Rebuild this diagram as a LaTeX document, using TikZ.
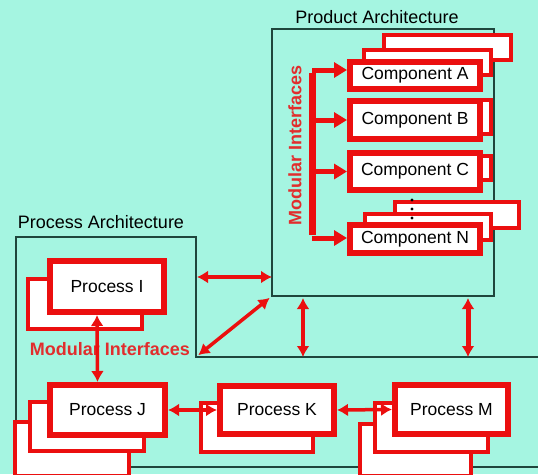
\documentclass[tikz,border=0pt]{standalone}
\usepackage{fontspec}
\setmainfont{Liberation Sans}
\usetikzlibrary{arrows.meta}
\definecolor{bg}{RGB}{165,245,225}
\definecolor{archline}{RGB}{30,70,60}
\definecolor{boxred}{RGB}{235,15,15}
\definecolor{lblred}{RGB}{225,45,45}
\begin{document}
\begin{tikzpicture}[x=1pt,y=-1pt,
  frontbox/.style={draw=boxred,fill=white,line width=6pt,inner sep=0pt,font=\fontsize{17.5}{20}\selectfont},
  backbox/.style={draw=boxred,fill=white,line width=4pt,inner sep=0pt},
  arch/.style={draw=archline,line width=1.2pt},
  lbl/.style={font=\fontsize{18}{20}\selectfont,inner sep=0pt},
  redlbl/.style={font=\fontsize{18}{20}\selectfont\bfseries,text=lblred,inner sep=0pt},
  dbl/.style={draw=boxred,line width=3.5pt,{Latex[length=11pt,width=13pt]}-{Latex[length=11pt,width=13pt]}},
  brarrow/.style={draw=boxred,line width=5pt,-{Triangle[length=13pt,width=15pt]}}]
\fill[bg] (0,0) rectangle (538,474);
\useasboundingbox (0,0) rectangle (538,474);
% Architecture outlines
\node[arch,minimum width=222pt,minimum height=267pt,inner sep=0pt,outer sep=0pt] (prod) at (383,162.5) {};
\coordinate (pa1) at (16,237);
\coordinate (pa2) at (196,237);
\coordinate (pa3) at (196,357);
\coordinate (pa4) at (545,357);
\coordinate (pa5) at (16,467);
\coordinate (pa6) at (545,467);
\draw[arch] (pa4) -- (pa3) -- (pa2) -- (pa1) -- (pa5) -- (pa6);
\node[lbl] (prodlbl) at (377,17) {Product Architecture};
\node[lbl] (proclbl) at (101,222) {Process Architecture};
% Components
\node[backbox,minimum width=127pt,minimum height=25pt] (A2) at (447.5,47.5) {};
\node[backbox,minimum width=127pt,minimum height=25pt] (A1) at (427.5,62.5) {};
\node[frontbox,minimum width=130pt,minimum height=27pt] (A) at (415,75.5) {Component A};
\node[backbox,minimum width=132pt,minimum height=34pt] (B1) at (425,117) {};
\node[frontbox,minimum width=130pt,minimum height=38pt] (B) at (415,120) {Component B};
\node[backbox,minimum width=132pt,minimum height=24pt] (C1) at (425,168) {};
\node[frontbox,minimum width=130pt,minimum height=37pt] (C) at (415,171.5) {Component C};
\node[backbox,minimum width=124pt,minimum height=26pt] (N2) at (457,215) {};
\node[backbox,minimum width=126pt,minimum height=26pt] (N1) at (428,227) {};
\node[frontbox,minimum width=130pt,minimum height=28pt] (N) at (415,239) {Component N};
\fill[black] (412,200) circle (1.6) (412,209) circle (1.6) (412,218) circle (1.6);
% bracket
\coordinate (bt) at (312,70);
\coordinate (bb) at (312,238);
\draw[boxred,line width=7pt] ([yshift=-3pt]bt) -- ([yshift=3pt]bb);
\draw[brarrow] (bt) -- (bt -| A.west);
\draw[brarrow] (bt |- B.west) -- (B.west);
\draw[brarrow] (bt |- C.west) -- (C.west);
\draw[brarrow] (bb) -- (bb -| N.west);
\node[redlbl,rotate=90] (milbl) at (295,145) {Modular Interfaces};
% Processes
\node[backbox,minimum width=114pt,minimum height=50pt] (I1) at (85,304) {};
\node[frontbox,minimum width=114pt,minimum height=51pt] (I) at (107,286.5) {Process I};
\node[backbox,minimum width=114pt,minimum height=54pt] (J2) at (72,449) {};
\node[backbox,minimum width=114pt,minimum height=49pt] (J1) at (87,426.5) {};
\node[frontbox,minimum width=115pt,minimum height=50pt] (J) at (107.5,410) {Process J};
\node[backbox,minimum width=112pt,minimum height=49pt] (K1) at (257,427.5) {};
\node[frontbox,minimum width=114pt,minimum height=48pt] (K) at (277,410) {Process K};
\node[backbox,minimum width=111pt,minimum height=52pt] (M2) at (415.5,450) {};
\node[backbox,minimum width=113pt,minimum height=49pt] (M1) at (431.5,427.5) {};
\node[frontbox,minimum width=113pt,minimum height=49pt] (M) at (451.5,409.5) {Process M};
\node[redlbl] (mi2) at (110,349) {Modular Interfaces};
% Arrows
\draw[dbl] ([xshift=-10pt]I.south) -- ([xshift=-10pt]J.north);
\draw[dbl] (J.east) -- (K.west);
\draw[dbl] (K.east) -- (M.west);
\coordinate (hL) at (197,277);
\draw[dbl] (hL) -- (hL -| prod.west);
\draw[dbl,shorten <=3pt,shorten >=3pt] (pa3) -- (prod.south west);
\coordinate (v1) at (303,357);
\coordinate (v2) at (468,357);
\draw[dbl,shorten <=2pt] (prod.south -| v1) -- (v1);
\draw[dbl,line width=5pt,shorten <=2pt] (prod.south -| v2) -- (v2);
\end{tikzpicture}
\end{document}
